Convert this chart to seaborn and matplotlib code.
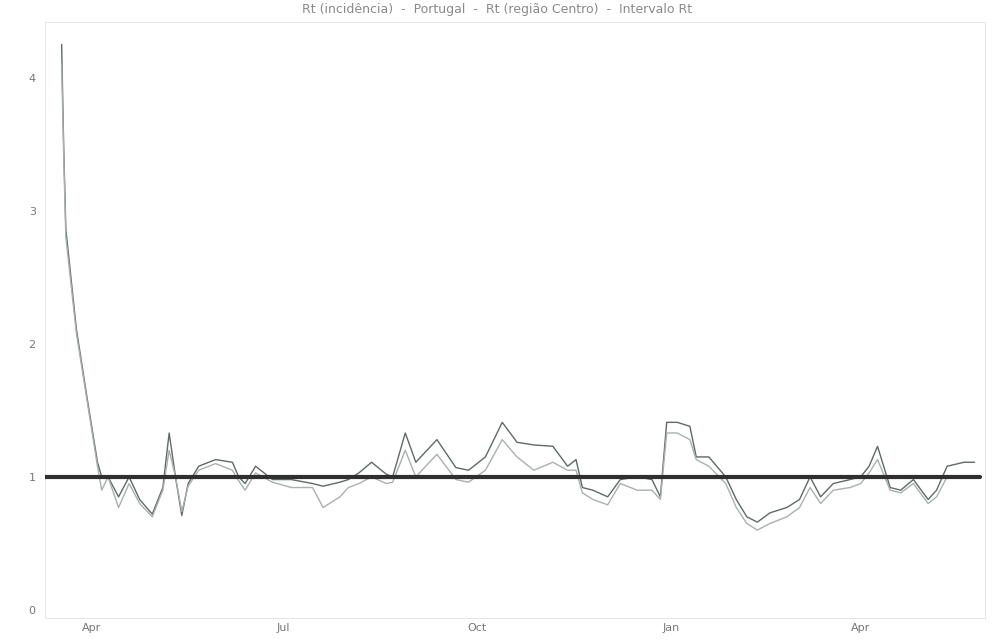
import matplotlib
matplotlib.use("Agg")
import matplotlib.pyplot as plt
import matplotlib.dates as mdates
import pandas as pd
import seaborn as sns

# Rt estimate (incidence based) and Rt for Portugal, smoothed daily series
dates_a = [
    "2020-03-18", "2020-03-19", "2020-03-20", "2020-03-25", "2020-03-30", "2020-04-04",
    "2020-04-06", "2020-04-09", "2020-04-14", "2020-04-19", "2020-04-24", "2020-04-30",
    "2020-05-05", "2020-05-08", "2020-05-11", "2020-05-14", "2020-05-17", "2020-05-22",
    "2020-05-30", "2020-06-07", "2020-06-10", "2020-06-13", "2020-06-18", "2020-06-26",
    "2020-07-05", "2020-07-15", "2020-07-20", "2020-07-28", "2020-08-01", "2020-08-06",
    "2020-08-12", "2020-08-19", "2020-08-22", "2020-08-28", "2020-09-02", "2020-09-12",
    "2020-09-21", "2020-09-27", "2020-10-05", "2020-10-13", "2020-10-20", "2020-10-28",
    "2020-11-06", "2020-11-13", "2020-11-17", "2020-11-20", "2020-11-25", "2020-12-02",
    "2020-12-08", "2020-12-16", "2020-12-23", "2020-12-27", "2020-12-30", "2021-01-04",
    "2021-01-10", "2021-01-13", "2021-01-19", "2021-01-27", "2021-02-01", "2021-02-06",
    "2021-02-11", "2021-02-17", "2021-02-25", "2021-03-03", "2021-03-08", "2021-03-13",
    "2021-03-19", "2021-03-27", "2021-04-01", "2021-04-05", "2021-04-09", "2021-04-15",
    "2021-04-20", "2021-04-26", "2021-05-03", "2021-05-07", "2021-05-12", "2021-05-20",
    "2021-05-25",
]
rt_incidence = [
    4.25, 3.46, 2.86, 2.11, 1.60, 1.11,
    1.00, 1.00, 0.85, 1.00, 0.83, 0.72,
    0.92, 1.33, 1.00, 0.71, 0.95, 1.08,
    1.13, 1.11, 1.00, 0.95, 1.08, 0.98,
    0.98, 0.95, 0.93, 0.96, 0.98, 1.03,
    1.11, 1.02, 1.00, 1.33, 1.11, 1.28,
    1.07, 1.05, 1.15, 1.41, 1.26, 1.24,
    1.23, 1.08, 1.13, 0.92, 0.90, 0.85,
    0.98, 1.00, 0.98, 0.85, 1.41, 1.41,
    1.38, 1.15, 1.15, 1.00, 0.83, 0.70,
    0.66, 0.73, 0.77, 0.83, 1.00, 0.85,
    0.95, 0.98, 1.00, 1.08, 1.23, 0.92,
    0.90, 0.98, 0.83, 0.90, 1.08, 1.11,
    1.11,
]

dates_b = dates_a[:-2]
rt_portugal = [
    4.10, 3.40, 2.80, 2.08, 1.58, 1.08,
    0.90, 1.00, 0.77, 0.95, 0.80, 0.70,
    0.90, 1.20, 1.00, 0.74, 0.93, 1.05,
    1.10, 1.05, 0.97, 0.90, 1.03, 0.96,
    0.92, 0.92, 0.77, 0.85, 0.92, 0.95,
    1.00, 0.95, 0.96, 1.20, 1.00, 1.17,
    0.98, 0.96, 1.05, 1.28, 1.15, 1.05,
    1.11, 1.05, 1.05, 0.88, 0.83, 0.79,
    0.95, 0.90, 0.90, 0.83, 1.33, 1.33,
    1.28, 1.13, 1.08, 0.95, 0.77, 0.65,
    0.60, 0.65, 0.70, 0.77, 0.92, 0.80,
    0.90, 0.92, 0.95, 1.03, 1.13, 0.90,
    0.88, 0.95, 0.80, 0.85, 1.00,
]

series_labels = ["Rt (incidência)", "Portugal"]
threshold = 1.0
y_ticks = [0, 1, 2, 3, 4]

df = pd.concat([
    pd.DataFrame({"data": pd.to_datetime(dates_a), "Rt": rt_incidence, "serie": series_labels[0]}),
    pd.DataFrame({"data": pd.to_datetime(dates_b), "Rt": rt_portugal, "serie": series_labels[1]}),
])

sns.set_style("white")
plt.rcParams["font.family"] = ["DejaVu Sans"]

fig = plt.figure(figsize=(9.95, 6.43), dpi=100)
ax = fig.add_axes([0.045, 0.039, 0.945, 0.927])

sns.lineplot(
    data=df, x="data", y="Rt", hue="serie",
    palette={series_labels[0]: "#5e6a66", series_labels[1]: "#a9b0ae"},
    linewidth=1.0, legend=False, ax=ax, sort=True,
)
ax.axhline(threshold, xmin=0.0, xmax=0.995, color="#2f2f2f", linewidth=3.0, zorder=3)

ax.set_xlim(pd.Timestamp("2020-03-10"), pd.Timestamp("2021-05-30"))
ax.set_ylim(-0.06, 4.42)
ax.set_yticks(y_ticks)
ax.xaxis.set_major_locator(mdates.MonthLocator(bymonth=[1, 4, 7, 10]))
ax.xaxis.set_major_formatter(mdates.DateFormatter("%b"))
ax.set_xlabel("")
ax.set_ylabel("")
ax.tick_params(axis="both", labelsize=8, colors="#777777", length=3, width=0.8)
ax.tick_params(axis="x", pad=1)

for side in ax.spines.values():
    side.set_color("#e6e6e6")
    side.set_linewidth(0.7)

fig.text(0.5, 0.986,
         "Rt (incidência)  -  Portugal  -  Rt (região Centro)  -  Intervalo Rt",
         ha="center", va="center", fontsize=9, color="#8a8a8a")

fig.savefig("out.png", dpi=100)
